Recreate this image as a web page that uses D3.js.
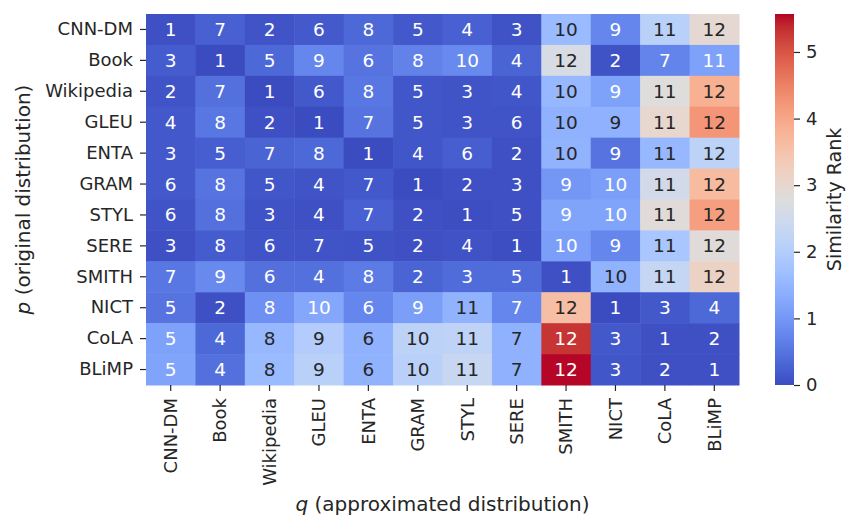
<!DOCTYPE html>
<html>
<head>
<meta charset="utf-8">
<script src="https://cdn.jsdelivr.net/npm/d3@7"></script>
<style>
  body { margin: 0; background: #fff; }
  svg text { font-family: "DejaVu Sans", sans-serif; fill: #262626; }
</style>
</head>
<body>
<svg width="846" height="517"></svg>
<script>
  'use strict';

  const rowLabels = ['CNN-DM', 'Book', 'Wikipedia', 'GLEU', 'ENTA', 'GRAM', 'STYL', 'SERE', 'SMITH', 'NICT', 'CoLA', 'BLiMP'];
  const colLabels = rowLabels;

  // rank written in each cell
  const ranks = [
    [1, 7, 2, 6, 8, 5, 4, 3, 10, 9, 11, 12],
    [3, 1, 5, 9, 6, 8, 10, 4, 12, 2, 7, 11],
    [2, 7, 1, 6, 8, 5, 3, 4, 10, 9, 11, 12],
    [4, 8, 2, 1, 7, 5, 3, 6, 10, 9, 11, 12],
    [3, 5, 7, 8, 1, 4, 6, 2, 10, 9, 11, 12],
    [6, 8, 5, 4, 7, 1, 2, 3, 9, 10, 11, 12],
    [6, 8, 3, 4, 7, 2, 1, 5, 9, 10, 11, 12],
    [3, 8, 6, 7, 5, 2, 4, 1, 10, 9, 11, 12],
    [7, 9, 6, 4, 8, 2, 3, 5, 1, 10, 11, 12],
    [5, 2, 8, 10, 6, 9, 11, 7, 12, 1, 3, 4],
    [5, 4, 8, 9, 6, 10, 11, 7, 12, 3, 1, 2],
    [5, 4, 8, 9, 6, 10, 11, 7, 12, 3, 2, 1]
  ];

  // value behind the colour
  const values = [
    [0.05, 0.25, 0.10, 0.18, 0.35, 0.15, 0.25, 0.08, 1.60, 0.75, 2.10, 2.95],
    [0.20, 0.00, 0.35, 0.75, 0.50, 0.70, 0.80, 0.30, 2.65, 0.08, 0.72, 1.15],
    [0.10, 0.45, 0.00, 0.15, 0.55, 0.12, 0.10, 0.12, 1.55, 1.15, 2.80, 3.85],
    [0.15, 0.55, 0.05, 0.00, 0.50, 0.12, 0.10, 0.10, 1.42, 1.42, 3.00, 4.25],
    [0.15, 0.22, 0.30, 0.35, 0.00, 0.12, 0.22, 0.05, 1.45, 0.50, 1.55, 2.15],
    [0.15, 0.50, 0.12, 0.10, 0.15, 0.00, 0.05, 0.05, 1.00, 1.10, 2.55, 3.65],
    [0.10, 0.45, 0.08, 0.05, 0.25, 0.05, 0.02, 0.05, 1.20, 1.20, 2.85, 4.10],
    [0.05, 0.20, 0.10, 0.10, 0.08, 0.05, 0.08, 0.02, 1.10, 0.75, 1.85, 2.85],
    [0.55, 0.80, 0.45, 0.45, 0.60, 0.30, 0.40, 0.40, 0.05, 1.45, 2.30, 3.15],
    [0.50, 0.05, 0.90, 1.25, 0.75, 1.10, 1.45, 0.75, 3.60, 0.00, 0.15, 0.35],
    [1.15, 0.35, 1.55, 2.00, 1.42, 2.15, 2.20, 1.42, 5.30, 0.15, 0.05, 0.05],
    [1.20, 0.45, 1.60, 2.10, 1.45, 2.10, 2.35, 1.42, 5.56, 0.12, 0.05, 0.05]
  ];

  const vmax = 5.57;
  const cbarTicks = [0, 1, 2, 3, 4, 5];

  // coolwarm, sampled
  const coolwarm = ['#3b4cc0', '#445acc', '#4d68d7', '#5775e1', '#6282ea', '#6c8ef1', '#779af7', '#82a5fb',
    '#8db0fe', '#98b9ff', '#a3c2ff', '#aec9fd', '#b8d0f9', '#c2d5f4', '#ccd9ee', '#d5dbe6', '#dddddd',
    '#e5d8d1', '#ecd3c5', '#f1ccb9', '#f5c4ad', '#f7bba0', '#f7b194', '#f7a687', '#f49a7b', '#f18d6f',
    '#ec7f63', '#e57058', '#de604d', '#d55042', '#cb3e38', '#c0282f', '#b40426'];

  const svg = d3.select('svg');
  const margin = {left: 146, top: 14, right: 107, bottom: 132};
  const W = 846 - margin.left - margin.right;
  const H = 517 - margin.top - margin.bottom;

  const x = d3.scaleBand().domain(colLabels).range([margin.left, margin.left + W]);
  const y = d3.scaleBand().domain(rowLabels).range([margin.top, margin.top + H]);
  const color = d3.scaleLinear()
    .domain(coolwarm.map((c, i) => i / (coolwarm.length - 1) * vmax))
    .range(coolwarm)
    .interpolate(d3.interpolateRgb)
    .clamp(true);

  const luminance = c => {
    const rgb = d3.rgb(c);
    const lin = v => { v /= 255; return v <= 0.03928 ? v / 12.92 : Math.pow((v + 0.055) / 1.055, 2.4); };
    return 0.2126 * lin(rgb.r) + 0.7152 * lin(rgb.g) + 0.0722 * lin(rgb.b);
  };

  const cells = [];
  rowLabels.forEach((r, i) => colLabels.forEach((c, j) => {
    cells.push({row: r, col: c, v: values[i][j], rank: ranks[i][j]});
  }));

  const g = svg.append('g');
  g.selectAll('rect').data(cells).enter().append('rect')
      .attr('x', d => x(d.col))
      .attr('y', d => y(d.row))
      .attr('width', x.bandwidth() + 0.5)
      .attr('height', y.bandwidth() + 0.5)
      .attr('fill', d => color(d.v));

  g.selectAll('text').data(cells).enter().append('text')
      .attr('x', d => x(d.col) + x.bandwidth() / 2)
      .attr('y', d => y(d.row) + y.bandwidth() / 2)
      .attr('text-anchor', 'middle')
      .attr('dominant-baseline', 'central')
      .style('font-size', '18.5px')
      .style('fill', d => luminance(color(d.v)) > 0.408 ? '#262626' : '#ffffff')
      .text(d => d.rank);

  // axes
  const yAxis = svg.append('g')
      .attr('transform', `translate(${margin.left},0)`)
      .call(d3.axisLeft(y).tickSize(6).tickPadding(7));
  const xAxis = svg.append('g')
      .attr('transform', `translate(0,${margin.top + H})`)
      .call(d3.axisBottom(x).tickSize(6).tickPadding(7));
  [xAxis, yAxis].forEach(a => {
    a.select('.domain').remove();
    a.selectAll('line').attr('stroke', '#262626').attr('stroke-width', 1.2);
    a.selectAll('text').style('font-size', '18px').attr('fill', '#262626');
  });
  xAxis.selectAll('text')
      .attr('transform', 'rotate(-90)')
      .attr('text-anchor', 'end')
      .attr('dy', '0.35em')
      .attr('x', -13)
      .attr('y', 0);

  const yl = svg.append('text')
      .attr('transform', `translate(30,${margin.top + H / 2}) rotate(-90)`)
      .attr('text-anchor', 'middle')
      .style('font-size', '20px');
  yl.append('tspan').style('font-style', 'italic').text('p');
  yl.append('tspan').text(' (original distribution)');

  const xl = svg.append('text')
      .attr('x', margin.left + W / 2)
      .attr('y', 511)
      .attr('text-anchor', 'middle')
      .style('font-size', '20px');
  xl.append('tspan').style('font-style', 'italic').text('q');
  xl.append('tspan').text(' (approximated distribution)');

  // colour bar
  const cbX = 775, cbW = 19;
  const cbY = d3.scaleLinear().domain([0, vmax]).range([margin.top + H, margin.top]);
  const grad = svg.append('defs').append('linearGradient')
      .attr('id', 'cw').attr('x1', 0).attr('y1', 1).attr('x2', 0).attr('y2', 0);
  grad.selectAll('stop').data(coolwarm).enter().append('stop')
      .attr('offset', (d, i) => i / (coolwarm.length - 1))
      .attr('stop-color', d => d);
  svg.append('rect')
      .attr('x', cbX).attr('y', margin.top)
      .attr('width', cbW).attr('height', H)
      .attr('fill', 'url(#cw)');
  const cbAxis = svg.append('g')
      .attr('transform', `translate(${cbX + cbW},0)`)
      .call(d3.axisRight(cbY).tickValues(cbarTicks).tickFormat(d3.format('d')).tickSize(6).tickPadding(6));
  cbAxis.select('.domain').remove();
  cbAxis.selectAll('line').attr('stroke', '#262626').attr('stroke-width', 1.2);
  cbAxis.selectAll('text').style('font-size', '18px').attr('fill', '#262626');

  svg.append('text')
      .attr('transform', `translate(841,${margin.top + H / 2}) rotate(-90)`)
      .attr('text-anchor', 'middle')
      .style('font-size', '19px')
      .text('Similarity Rank');
</script>
</body>
</html>
